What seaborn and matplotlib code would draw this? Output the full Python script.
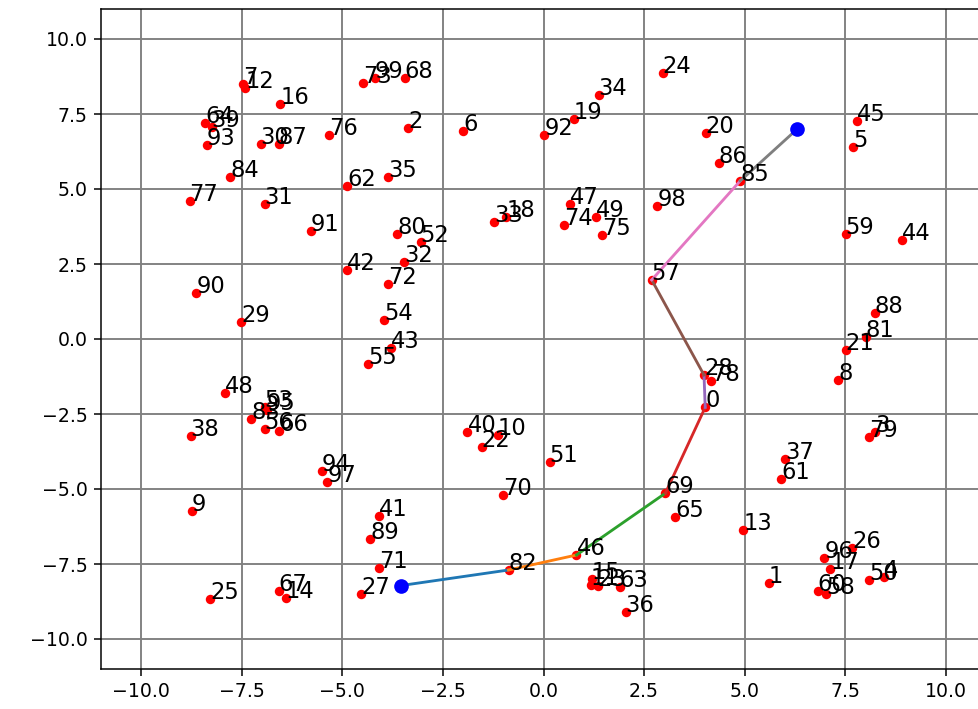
import matplotlib
matplotlib.use("Agg")
import matplotlib.pyplot as plt
import seaborn as sns
import pandas as pd

# ---- data ----
point_x = [4.02, 5.60, -3.37, 8.25, 8.46, 7.70, -1.99, -7.46, 7.33, -8.74,
           -1.14, 1.17, -7.41, 4.97, -6.40, 1.20, -6.54, 7.13, -0.92, 0.75,
           4.03, 7.51, -1.54, 1.35, 2.96, -8.29, 7.67, -4.53, 3.99, -7.52,
           -7.03, -6.93, -3.47, -1.22, 1.37, -3.87, 2.04, 6.01, -8.77, -8.25,
           -1.89, -4.09, -4.88, -3.80, 8.90, 7.80, 0.82, 0.65, -7.91, 1.31,
           8.10, 0.15, -3.05, -6.93, -3.96, -4.36, -6.93, 2.69, 7.03, 7.51,
           6.82, 5.91, -4.88, 1.89, -8.41, 3.28, -6.57, -6.58, -3.45, 3.03,
           -1.00, -4.09, -3.86, -4.49, 0.51, 1.45, -5.34, -8.80, 4.16, 8.10,
           -3.64, 8.01, -0.87, -7.27, -7.79, 4.89, 4.36, -6.58, 8.23, -4.31,
           -8.63, -5.78, 0.02, -8.37, -5.51, -6.88, 6.98, -5.37, 2.83, -4.20]
point_y = [-2.28, -8.14, 7.04, -3.10, -7.92, 6.41, 6.94, 8.50, -1.37, -5.72,
           -3.20, -8.20, 8.37, -6.37, -8.62, -8.00, 7.83, -7.67, 4.08, 7.32,
           6.87, -0.37, -3.59, -8.23, 8.88, -8.67, -6.98, -8.51, -1.20, 0.57,
           6.51, 4.50, 2.57, 3.91, 8.12, 5.40, -9.09, -3.99, -3.23, 7.07,
           -3.11, -5.89, 2.30, -0.31, 3.30, 7.28, -7.20, 4.50, -1.79, 4.08,
           -8.03, -4.11, 3.24, -2.27, 0.63, -0.84, -3.01, 1.97, -8.50, 3.49,
           -8.39, -4.66, 5.11, -8.27, 7.19, -5.94, -3.06, -8.39, 8.71, -5.14,
           -5.19, -7.63, 1.82, 8.54, 3.80, 3.47, 6.81, 4.61, -1.40, -3.28,
           3.49, 0.06, -7.70, -2.68, 5.40, 5.27, 5.86, 6.51, 0.88, -6.68,
           1.52, 3.60, 6.81, 6.46, -4.40, -2.37, -7.29, -4.78, 4.44, 8.71]
point_labels = [str(i) for i in range(100)]

start_point = (-3.55, -8.22)
end_point = (6.30, 6.99)
path_ids = [82, 46, 69, 0, 28, 57, 85]

tick_values = [-10.0, -7.5, -5.0, -2.5, 0.0, 2.5, 5.0, 7.5, 10.0]

# ---- build path segments ----
path_x = [start_point[0]] + [point_x[i] for i in path_ids] + [end_point[0]]
path_y = [start_point[1]] + [point_y[i] for i in path_ids] + [end_point[1]]
rows = []
for k in range(len(path_x) - 1):
    rows.append({"seg": f"s{k}", "order": 0, "x": path_x[k], "y": path_y[k]})
    rows.append({"seg": f"s{k}", "order": 1, "x": path_x[k + 1], "y": path_y[k + 1]})
seg_df = pd.DataFrame(rows)
seg_names = [f"s{k}" for k in range(len(path_x) - 1)]
palette = sns.color_palette("tab10", len(seg_names))

pts_df = pd.DataFrame({"x": point_x, "y": point_y, "label": point_labels})
ends_df = pd.DataFrame({"x": [start_point[0], end_point[0]],
                        "y": [start_point[1], end_point[1]]})

DPI = 136
fig = plt.figure(figsize=(978 / DPI, 709 / DPI), dpi=DPI)
ax = fig.add_axes([101 / 978, 40 / 709, 885 / 978, 660 / 709])

sns.scatterplot(data=pts_df, x="x", y="y", color="red", s=25,
                linewidth=0, ax=ax, zorder=2)
for xx, yy, lab in zip(point_x, point_y, point_labels):
    ax.text(xx, yy, lab, fontsize=12, color="black", zorder=5)

sns.lineplot(data=seg_df, x="x", y="y", hue="seg", hue_order=seg_names,
             palette=palette, sort=False, estimator=None, units="seg",
             linewidth=1.5, legend=False, ax=ax, zorder=3)

sns.scatterplot(data=ends_df, x="x", y="y", color="blue", s=60,
                linewidth=0, ax=ax, zorder=4)

ax.set_xlim(-11, 11)
ax.set_ylim(-11, 11)
ax.set_xticks(tick_values)
ax.set_yticks(tick_values)
ax.set_xlabel("")
ax.set_ylabel("")
ax.grid(True, color="gray", linewidth=1.0)
ax.set_axisbelow(True)

fig.savefig("out.png", dpi=DPI)
